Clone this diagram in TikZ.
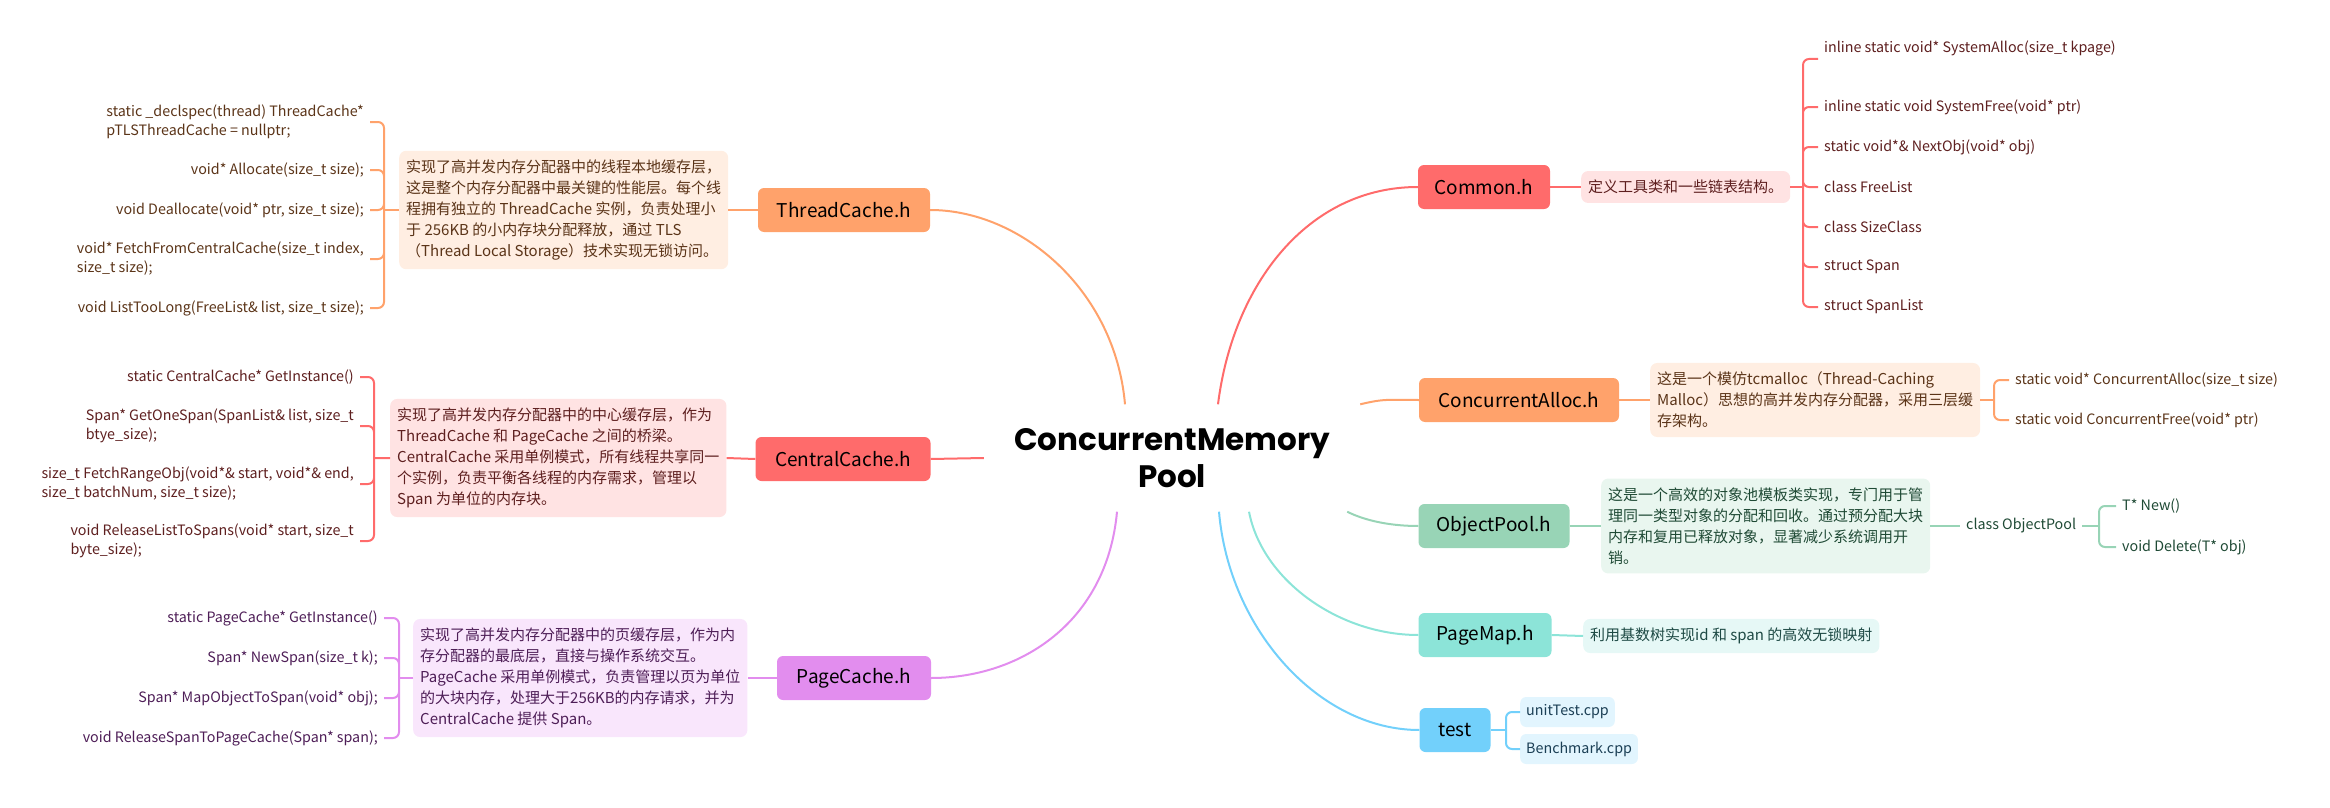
\documentclass[tikz,border=0pt]{standalone}
\usepackage{fontspec}
\setmainfont{Noto Sans CJK SC}
\newfontfamily\titlefont{Poppins}

\definecolor{orangeMain}{HTML}{FFA26B}
\definecolor{orangeLight}{HTML}{FFEEE2}
\definecolor{orangeText}{HTML}{5B3418}
\definecolor{redMain}{HTML}{FF6B6B}
\definecolor{redLight}{HTML}{FFE3E3}
\definecolor{redText}{HTML}{5E1F1F}
\definecolor{purpleMain}{HTML}{E28DEE}
\definecolor{purpleLight}{HTML}{F9E6FC}
\definecolor{purpleText}{HTML}{4E1E57}
\definecolor{greenMain}{HTML}{98D4B6}
\definecolor{greenLight}{HTML}{E9F6EF}
\definecolor{greenText}{HTML}{1F4A35}
\definecolor{tealMain}{HTML}{8CE4D8}
\definecolor{tealLight}{HTML}{E6F8F6}
\definecolor{tealText}{HTML}{1E4A45}
\definecolor{blueMain}{HTML}{72D0FB}
\definecolor{blueLight}{HTML}{E2F5FE}
\definecolor{blueText}{HTML}{1B3F55}

\tikzset{
  topic/.style={rounded corners=6pt, minimum height=44pt, inner sep=0pt, font=\fontsize{19}{22}\selectfont},
  note/.style={rounded corners=7pt, align=left, inner xsep=7pt, inner ysep=9pt, font=\fontsize{15}{21}\selectfont},
  leaf/.style={align=left, inner sep=6pt, font=\fontsize{14.3}{19}\selectfont},
  link/.style={line width=2pt},
}

\begin{document}
\begin{tikzpicture}[x=1pt, y=-1pt]
\useasboundingbox (0,0) rectangle (2330,808);

\node[font=\titlefont\bfseries\fontsize{31}{37}\selectfont, align=center, minimum width=376pt, minimum height=107pt, inner sep=0pt] (title) at (1172,458) {ConcurrentMemory\\Pool};

\node[topic, fill=orangeMain, minimum width=172pt] (tc) at (844,210) {ThreadCache.h};
\node[topic, fill=redMain, minimum width=175pt] (cc) at (843,459) {CentralCache.h};
\node[topic, fill=purpleMain, minimum width=154pt] (pc) at (854,678) {PageCache.h};
\node[topic, fill=redMain, minimum width=132pt] (cm) at (1484,187) {Common.h};
\node[topic, fill=orangeMain, minimum width=200pt] (ca) at (1519,400) {ConcurrentAlloc.h};
\node[topic, fill=greenMain, minimum width=151pt] (op) at (1494,526) {ObjectPool.h};
\node[topic, fill=tealMain, minimum width=133pt] (pm) at (1485,635) {PageMap.h};
\node[topic, fill=blueMain, minimum width=71pt] (ts) at (1455,730) {test};

\node[note, fill=orangeLight, text=orangeText, anchor=west] (tcd) at (399,210) {实现了高并发内存分配器中的线程本地缓存层，\\这是整个内存分配器中最关键的性能层。每个线\\程拥有独立的 ThreadCache 实例，负责处理小\\于 256KB 的小内存块分配释放，通过 TLS\\（Thread Local Storage）技术实现无锁访问。};
\node[note, fill=redLight, text=redText, anchor=west] (ccd) at (390,458) {实现了高并发内存分配器中的中心缓存层，作为\\ThreadCache 和 PageCache 之间的桥梁。\\CentralCache 采用单例模式，所有线程共享同一\\个实例，负责平衡各线程的内存需求，管理以\\Span 为单位的内存块。};
\node[note, fill=purpleLight, text=purpleText, anchor=west] (pcd) at (413,678) {实现了高并发内存分配器中的页缓存层，作为内\\存分配器的最底层，直接与操作系统交互。\\PageCache 采用单例模式，负责管理以页为单位\\的大块内存，处理大于256KB的内存请求，并为\\CentralCache 提供 Span。};
\node[note, fill=redLight, text=redText, anchor=west] (cmd) at (1581,187) {定义工具类和一些链表结构。};
\node[note, fill=orangeLight, text=orangeText, anchor=west] (cad) at (1650,400) {这是一个模仿tcmalloc（Thread-Caching\\Malloc）思想的高并发内存分配器，采用三层缓\\存架构。};
\node[note, fill=greenLight, text=greenText, anchor=west] (opd) at (1601,526) {这是一个高效的对象池模板类实现，专门用于管\\理同一类型对象的分配和回收。通过预分配大块\\内存和复用已释放对象，显著减少系统调用开\\销。};
\node[note, fill=tealLight, text=tealText, anchor=west] (pmd) at (1583,636) {利用基数树实现id 和 span 的高效无锁映射};

\coordinate (tcj) at (384,210);
\node[leaf, text=orangeText, anchor=east] (tc1) at (370,122) {static \_declspec(thread) ThreadCache*\\pTLSThreadCache = nullptr;};
\node[leaf, text=orangeText, anchor=east] (tc2) at (370,170) {void* Allocate(size\_t size);};
\node[leaf, text=orangeText, anchor=east] (tc3) at (370,210) {void Deallocate(void* ptr, size\_t size);};
\node[leaf, text=orangeText, anchor=east] (tc4) at (370,259) {void* FetchFromCentralCache(size\_t index,\\size\_t size);};
\node[leaf, text=orangeText, anchor=east] (tc5) at (370,308) {void ListTooLong(FreeList\& list, size\_t size);};

\coordinate (ccj) at (374,458);
\node[leaf, text=redText, anchor=east] (cc1) at (360,377) {static CentralCache* GetInstance()};
\node[leaf, text=redText, anchor=east] (cc2) at (360,426) {Span* GetOneSpan(SpanList\& list, size\_t\\btye\_size);};
\node[leaf, text=redText, anchor=east] (cc3) at (360,484) {size\_t FetchRangeObj(void*\& start, void*\& end,\\size\_t batchNum, size\_t size);};
\node[leaf, text=redText, anchor=east] (cc4) at (360,541) {void ReleaseListToSpans(void* start, size\_t\\byte\_size);};

\coordinate (pcj) at (399,678);
\node[leaf, text=purpleText, anchor=east] (pc1) at (384,618) {static PageCache* GetInstance()};
\node[leaf, text=purpleText, anchor=east] (pc2) at (384,658) {Span* NewSpan(size\_t k);};
\node[leaf, text=purpleText, anchor=east] (pc3) at (384,698) {Span* MapObjectToSpan(void* obj);};
\node[leaf, text=purpleText, anchor=east] (pc4) at (384,738) {void ReleaseSpanToPageCache(Span* span);};

\coordinate (cmj) at (1803,187);
\node[leaf, text=redText, anchor=west] (cm1) at (1818,59) {inline static void* SystemAlloc(size\_t kpage)\\\strut};
\node[leaf, text=redText, anchor=west] (cm2) at (1818,107) {inline static void SystemFree(void* ptr)};
\node[leaf, text=redText, anchor=west] (cm3) at (1818,147) {static void*\& NextObj(void* obj)};
\node[leaf, text=redText, anchor=west] (cm4) at (1818,187) {class FreeList};
\node[leaf, text=redText, anchor=west] (cm5) at (1818,227) {class SizeClass};
\node[leaf, text=redText, anchor=west] (cm6) at (1818,267) {struct Span};
\node[leaf, text=redText, anchor=west] (cm7) at (1818,307) {struct SpanList};

\coordinate (caj) at (1994,400);
\node[leaf, text=orangeText, anchor=west] (ca1) at (2009,380) {static void* ConcurrentAlloc(size\_t size)};
\node[leaf, text=orangeText, anchor=west] (ca2) at (2009,420) {static void ConcurrentFree(void* ptr)};

\node[leaf, text=greenText, anchor=west] (opc) at (1960,526) {class ObjectPool};
\coordinate (opj) at (2099,526);
\node[leaf, text=greenText, anchor=west] (op1) at (2116,506) {T* New()};
\node[leaf, text=greenText, anchor=west] (op2) at (2116,547) {void Delete(T* obj)};

\coordinate (tsj) at (1506,730);
\node[leaf, fill=blueLight, text=blueText, rounded corners=6pt, anchor=west, minimum height=30pt] (ts1) at (1520,712) {unitTest.cpp};
\node[leaf, fill=blueLight, text=blueText, rounded corners=6pt, anchor=west, minimum height=30pt] (ts2) at (1520,749) {Benchmark.cpp};

\draw[link, orangeMain] ([xshift=-47pt]title.north) .. controls +(-10,-115) and +(90,0) .. (tc.east);
\draw[link, redMain] (title.west) -- (cc.east);
\draw[link, purpleMain] ([xshift=-55pt]title.south) .. controls +(-10,110) and +(90,0) .. (pc.east);
\draw[link, redMain] ([xshift=46pt]title.north) .. controls +(15,-120) and +(-110,0) .. (cm.west);
\draw[link, orangeMain] (title.north east) .. controls +(25,-6) and +(-30,0) .. (ca.west);
\draw[link, greenMain] ([xshift=-13pt]title.south east) .. controls +(20,10) and +(-25,0) .. (op.west);
\draw[link, tealMain] ([xshift=77pt]title.south) .. controls +(13,68) and +(-80,0) .. (pm.west);
\draw[link, blueMain] ([xshift=47pt]title.south) .. controls +(10,118) and +(-100,0) .. (ts.west);

\draw[link, orangeMain] (tc.west) -- (tcd.east) (tcd.west) -- (tcj);
\draw[link, orangeMain, rounded corners=6pt] (tcj) |- (tc1.east) (tcj) |- (tc2.east) (tcj) |- (tc3.east) (tcj) |- (tc4.east) (tcj) |- (tc5.east);
\draw[link, redMain] (cc.west) -- (ccd.east) (ccd.west) -- (ccj);
\draw[link, redMain, rounded corners=6pt] (ccj) |- (cc1.east) (ccj) |- (cc2.east) (ccj) |- (cc3.east) (ccj) |- (cc4.east);
\draw[link, purpleMain] (pc.west) -- (pcd.east) (pcd.west) -- (pcj);
\draw[link, purpleMain, rounded corners=6pt] (pcj) |- (pc1.east) (pcj) |- (pc2.east) (pcj) |- (pc3.east) (pcj) |- (pc4.east);
\draw[link, redMain] (cm.east) -- (cmd.west) (cmd.east) -- (cmj);
\draw[link, redMain, rounded corners=6pt] (cmj) |- (cm1.west) (cmj) |- (cm2.west) (cmj) |- (cm3.west) (cmj) |- (cm4.west) (cmj) |- (cm5.west) (cmj) |- (cm6.west) (cmj) |- (cm7.west);
\draw[link, orangeMain] (ca.east) -- (cad.west) (cad.east) -- (caj);
\draw[link, orangeMain, rounded corners=6pt] (caj) |- (ca1.west) (caj) |- (ca2.west);
\draw[link, greenMain] (op.east) -- (opd.west) (opd.east) -- (opc.west) (opc.east) -- (opj);
\draw[link, greenMain, rounded corners=6pt] (opj) |- (op1.west) (opj) |- (op2.west);
\draw[link, tealMain] (pm.east) -- (pmd.west);
\draw[link, blueMain] (ts.east) -- (tsj);
\draw[link, blueMain, rounded corners=6pt] (tsj) |- (ts1.west) (tsj) |- (ts2.west);
\end{tikzpicture}
\end{document}
